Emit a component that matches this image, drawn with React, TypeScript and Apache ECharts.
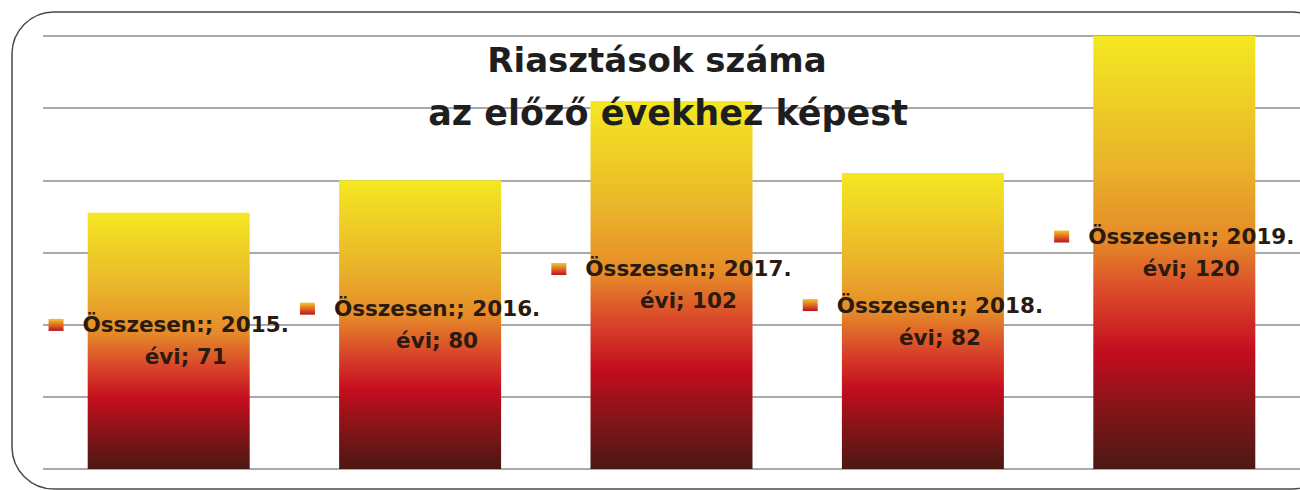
import React, { useEffect, useRef } from "react";
import * as echarts from "echarts";

const categories = ["2015. évi", "2016. évi", "2017. évi", "2018. évi", "2019. évi"];
const values = [71, 80, 102, 82, 120];
const seriesName = "Összesen:";
const titleLines = ["Riasztások száma", "az előző évekhez képest"];
const yMin = 0;
const yMax = 120;
const yInterval = 20;

export default function App() {
  const ref = useRef<HTMLDivElement>(null);
  useEffect(() => {
    if (!ref.current) return;
    const chart = echarts.init(ref.current, undefined, { renderer: "svg" });
    const barGradient = new echarts.graphic.LinearGradient(0, 0, 0, 1, [
      { offset: 0, color: "#f4e821" },
      { offset: 0.3, color: "#eab32a" },
      { offset: 0.47, color: "#e58a28" },
      { offset: 0.6, color: "#d9452a" },
      { offset: 0.73, color: "#c30d1e" },
      { offset: 0.85, color: "#8a1418" },
      { offset: 1, color: "#4b1814" },
    ]);
    const markerGradient = new echarts.graphic.LinearGradient(0, 0, 0, 1, [
      { offset: 0, color: "#f0c82a" },
      { offset: 0.5, color: "#e06a26" },
      { offset: 1, color: "#b8141c" },
    ]);
    const option: any = {
      animation: false,
      backgroundColor: "#ffffff",
      grid: { left: 43, right: 0, top: 36, bottom: 21, containLabel: false },
      xAxis: {
        type: "category",
        data: categories,
        axisLine: { show: false },
        axisTick: { show: false },
        axisLabel: { show: false },
      },
      yAxis: {
        type: "value",
        min: yMin,
        max: yMax,
        interval: yInterval,
        axisLine: { show: false },
        axisTick: { show: false },
        axisLabel: { show: false },
        splitLine: { show: true, lineStyle: { color: "#8c8c8c", width: 1.6 } },
      },
      graphic: [
        {
          type: "rect",
          shape: { x: 12, y: 12, width: 1322, height: 477, r: 42 },
          style: { fill: "none", stroke: "#4a4a4a", lineWidth: 1.5 },
          z: 100,
          silent: true,
        },
        {
          type: "text",
          x: 657,
          y: 60,
          style: {
            text: titleLines[0],
            textAlign: "center",
            textVerticalAlign: "middle",
            font: "bold 34px 'DejaVu Sans'",
            fill: "#1e1e1e",
          },
          z: 50,
        },
        {
          type: "text",
          x: 668,
          y: 113,
          style: {
            text: titleLines[1],
            textAlign: "center",
            textVerticalAlign: "middle",
            font: "bold 35px 'DejaVu Sans'",
            fill: "#1e1e1e",
          },
          z: 50,
        },
      ],
      series: [
        {
          type: "bar",
          name: seriesName,
          data: values,
          barWidth: 162,
          itemStyle: { color: barGradient },
          label: {
            show: true,
            position: "inside",
            formatter: (p: any) => {
              const parts = String(p.name).split(" ");
              return `{m|}{g|}{t|${p.seriesName}; ${parts[0]}}\n{s|}{t|${parts[1]}; ${p.value}}`;
            },
            rich: {
              m: { width: 15, height: 12, backgroundColor: markerGradient },
              g: { width: 19 },
              s: { width: 34 },
              t: {
                fontFamily: "DejaVu Sans",
                fontWeight: "bold",
                fontSize: 21.5,
                color: "#2a1a10",
                lineHeight: 32,
              },
            },
          },
        },
      ],
    };
    chart.setOption(option);
    return () => chart.dispose();
  }, []);
  return (
    <div
      ref={ref}
      style={{ position: "fixed", left: 0, top: 0, width: 1300, height: 490 }}
    />
  );
}
